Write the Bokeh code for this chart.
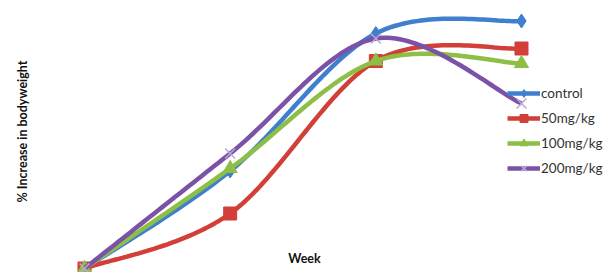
import numpy as np
from bokeh.plotting import figure
from bokeh.models import Label, Legend, LegendItem, Range1d
from bokeh.embed import file_html
from bokeh.resources import INLINE

weeks = [1, 2, 3, 4]
series_names = ["control", "50mg/kg", "100mg/kg", "200mg/kg"]
control = [0, 39, 94, 99]
mg50 = [0, 22, 83, 88]
mg100 = [0, 40, 83, 82]
mg200 = [0, 46, 92, 66]

colors = ["#3F7FCF", "#D23E38", "#8DBF45", "#7B52A6"]
markers = ["diamond", "square", "triangle", "x"]
msizes = [14, 13, 14, 14]


def smooth(xs, ys, n=40, t=1.0 / 6):
    xs = np.asarray(xs, float)
    ys = np.asarray(ys, float)
    px = np.concatenate([[xs[0]], xs, [xs[-1]]])
    py = np.concatenate([[ys[0]], ys, [ys[-1]]])
    ox, oy = [], []
    for i in range(1, len(px) - 2):
        p0 = np.array([px[i - 1], py[i - 1]])
        p1 = np.array([px[i], py[i]])
        p2 = np.array([px[i + 1], py[i + 1]])
        p3 = np.array([px[i + 2], py[i + 2]])
        c1 = p1 + (p2 - p0) * t
        c2 = p2 - (p3 - p1) * t
        s = np.linspace(0, 1, n)[:, None]
        pts = ((1 - s) ** 3) * p1 + 3 * ((1 - s) ** 2) * s * c1 + 3 * (1 - s) * s ** 2 * c2 + s ** 3 * p2
        ox.extend(pts[:, 0])
        oy.extend(pts[:, 1])
    return ox, oy


p = figure(width=603, height=272, output_backend="svg", toolbar_location=None,
           x_range=Range1d(0.4234, 4.563), y_range=Range1d(-1.6, 107.2),
           min_border=0, min_border_left=0, min_border_right=0,
           min_border_top=0, min_border_bottom=0)
p.xaxis.visible = False
p.yaxis.visible = False
p.xgrid.visible = False
p.ygrid.visible = False
p.outline_line_color = None
p.background_fill_color = "white"
p.border_fill_color = "white"

items = []
for name, ys, c, m, ms in zip(series_names, [control, mg50, mg100, mg200], colors, markers, msizes):
    sx, sy = smooth(weeks, ys)
    r1 = p.line(sx, sy, line_color=c, line_width=4.5)
    if m == "x":
        r2 = p.scatter(weeks, ys, marker=m, size=ms, line_color="#B8A8D8", line_width=1.5)
    else:
        r2 = p.scatter(weeks, ys, marker=m, size=ms, fill_color=c, line_color=c)
    items.append(LegendItem(label=name, renderers=[r1, r2]))

legend = Legend(items=items, location=(507, 94), orientation="vertical",
                glyph_width=33, glyph_height=20, spacing=5, padding=0, margin=0,
                label_standoff=1, label_text_font="Lato", label_text_font_size="13.5px",
                label_text_color="#333333", border_line_color=None,
                background_fill_alpha=0)
p.add_layout(legend, "center")

p.add_layout(Label(x=22, y=141, x_units="screen", y_units="screen",
                   text="% Increase in bodyweight", angle=np.pi / 2,
                   text_font="Lato", text_font_style="bold", text_font_size="12.5px",
                   text_align="center", text_baseline="middle", text_color="#111111"))
p.add_layout(Label(x=304, y=14, x_units="screen", y_units="screen",
                   text="Week", text_font="Lato", text_font_style="bold",
                   text_font_size="12.5px", text_align="center", text_baseline="middle",
                   text_color="#111111"))

open("out.html", "w").write(file_html(p, INLINE))
